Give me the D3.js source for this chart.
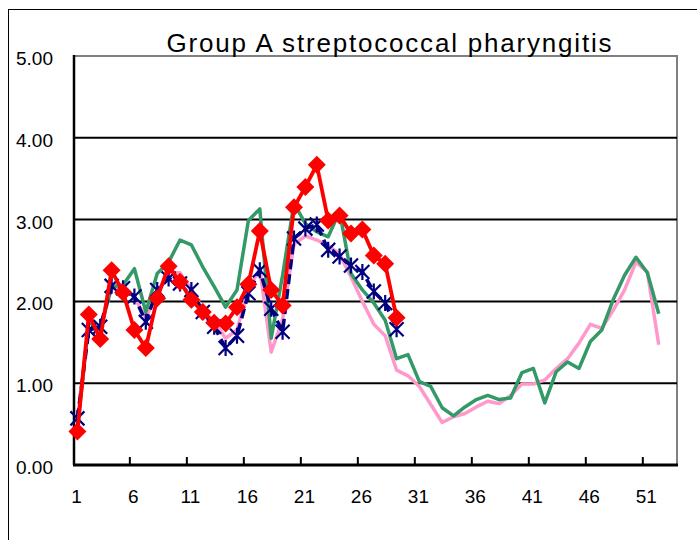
<!DOCTYPE html>
<meta charset="utf-8">
<head>
    <style>
        body { margin: 0; background: #fff; }
        svg { display: block; }
        .lbl { font-family: "Liberation Sans", Arial, sans-serif; fill: #000; }
    </style>
    <script src="https://d3js.org/d3.v7.min.js"></script>
</head>
<body>
<script>

    // weekly values (per sentinel site)
    var weeks = d3.range(1, 53);
    var xLabels = [1, 6, 11, 16, 21, 26, 31, 36, 41, 46, 51];
    var yTicks = [0, 1, 2, 3, 4, 5];

    var pink = [0.55, 1.75, 1.70, 2.15, 2.20, 2.05, 1.80, 2.10, 2.35, 2.35,
        2.15, 1.90, 1.75, 1.55, 1.65, 2.15, 2.40, 1.38, 1.78, 2.70,
        2.80, 2.75, 2.68, 2.58, 2.30, 2.00, 1.72, 1.58, 1.16, 1.09,
        0.96, 0.74, 0.52, 0.59, 0.63, 0.71, 0.78, 0.75, 0.85, 0.99,
        0.99, 1.04, 1.18, 1.30, 1.49, 1.72, 1.67, 1.89, 2.14, 2.48,
        2.36, 1.47];

    var green = [0.45, 1.75, 1.65, 2.18, 2.20, 2.40, 1.87, 2.34, 2.48, 2.75,
        2.69, 2.42, 2.18, 1.93, 2.14, 2.99, 3.13, 1.55, 2.32, 3.20,
        2.95, 2.85, 2.79, 3.10, 2.34, 2.14, 1.98, 1.77, 1.30, 1.35,
        1.02, 0.96, 0.70, 0.60, 0.71, 0.80, 0.85, 0.80, 0.82, 1.13,
        1.18, 0.76, 1.14, 1.26, 1.18, 1.51, 1.65, 2.02, 2.32, 2.54,
        2.35, 1.85];

    var navy = [0.57, 1.65, 1.69, 2.19, 2.16, 2.06, 1.75, 2.14, 2.28, 2.22,
        2.14, 1.87, 1.69, 1.43, 1.58, 2.10, 2.38, 1.91, 1.63, 2.77,
        2.89, 2.94, 2.63, 2.55, 2.44, 2.36, 2.12, 1.98, 1.66];

    var red = [0.41, 1.84, 1.54, 2.38, 2.11, 1.65, 1.43, 2.04, 2.43, 2.24,
        2.02, 1.87, 1.74, 1.73, 1.93, 2.21, 2.86, 2.14, 1.95, 3.15,
        3.40, 3.67, 2.99, 3.05, 2.83, 2.88, 2.56, 2.46, 1.80];

    var width = 697, height = 540;
    var plot = {left: 74, right: 677, top: 56, bottom: 465};

    var svg = d3.select("body").append("svg")
        .attr("width", width)
        .attr("height", height);

    // outer chart frame
    svg.append("rect")
        .attr("x", 8.5).attr("y", 9.5)
        .attr("width", 720).attr("height", 560)
        .attr("fill", "none")
        .attr("stroke", "#000")
        .attr("stroke-width", 1);

    var x = d3.scaleLinear().domain([0.7, 53.6]).range([plot.left, plot.right]);
    var y = d3.scaleLinear().domain([0, 5]).range([plot.bottom, plot.top]);

    // plot area border (grey) top + right
    svg.append("path")
        .attr("d", "M" + plot.left + "," + y(5) + "H" + plot.right + "V" + plot.bottom)
        .attr("fill", "none")
        .attr("stroke", "#808080")
        .attr("stroke-width", 2);

    // gridlines
    svg.append("g").selectAll("line")
        .data(yTicks.filter(function (d) { return d > 0 && d < 5; }))
        .enter().append("line")
        .attr("x1", plot.left).attr("x2", plot.right)
        .attr("y1", function (d) { return y(d); })
        .attr("y2", function (d) { return y(d); })
        .attr("stroke", "#000")
        .attr("stroke-width", 2);

    // y labels
    svg.append("g").selectAll("text")
        .data(yTicks)
        .enter().append("text")
        .attr("class", "lbl")
        .attr("x", 53)
        .attr("y", function (d) { return y(d) + 9; })
        .attr("text-anchor", "end")
        .style("font-size", "19px")
        .text(function (d) { return d3.format(".2f")(d); });

    // axes lines
    svg.append("line")
        .attr("x1", plot.left).attr("x2", plot.left)
        .attr("y1", y(5) - 1).attr("y2", plot.bottom)
        .attr("stroke", "#000").attr("stroke-width", 2.5);
    svg.append("line")
        .attr("x1", plot.left - 1).attr("x2", plot.right + 1)
        .attr("y1", plot.bottom).attr("y2", plot.bottom)
        .attr("stroke", "#000").attr("stroke-width", 3);

    // ticks at category-group boundaries
    svg.append("g").selectAll("line")
        .data(xLabels.slice(1))
        .enter().append("line")
        .attr("x1", function (d) { return x(d - 0.4); })
        .attr("x2", function (d) { return x(d - 0.4); })
        .attr("y1", plot.bottom).attr("y2", plot.bottom - 8)
        .attr("stroke", "#000").attr("stroke-width", 2);

    svg.append("g").selectAll("text")
        .data(xLabels)
        .enter().append("text")
        .attr("class", "lbl")
        .attr("x", function (d) { return x(d) - 1; })
        .attr("y", 503)
        .attr("text-anchor", "middle")
        .style("font-size", "19px")
        .text(function (d) { return d; });

    // title
    svg.append("text")
        .attr("class", "lbl")
        .attr("x", 389)
        .attr("y", 52)
        .attr("text-anchor", "middle")
        .attr("textLength", 445)
        .attr("lengthAdjust", "spacing")
        .style("font-size", "26px")
        .text("Group A streptococcal pharyngitis");

    var line = d3.line()
        .x(function (d, i) { return x(weeks[i]); })
        .y(function (d) { return y(d); });

    function drawLine(vals, color, w, dash) {
        svg.append("path")
            .datum(vals)
            .attr("d", line)
            .attr("fill", "none")
            .attr("stroke", color)
            .attr("stroke-width", w)
            .attr("stroke-linejoin", "round")
            .attr("stroke-dasharray", dash || null);
    }

    drawLine(pink, "#FF99CC", 3.5);
    drawLine(green, "#339966", 3.5);
    drawLine(navy, "#000080", 3.5, "10,5");

    // asterisk markers
    svg.append("g").selectAll("path")
        .data(navy)
        .enter().append("path")
        .attr("transform", function (d, i) {
            return "translate(" + x(weeks[i]) + "," + y(d) + ")";
        })
        .attr("d", "M-7,-7L7,7M-7,7L7,-7M0,-8L0,8")
        .attr("stroke", "#000080")
        .attr("stroke-width", 2.2)
        .attr("fill", "none");

    drawLine(red, "#FF0000", 3.8);

    // diamond markers
    svg.append("g").selectAll("path")
        .data(red)
        .enter().append("path")
        .attr("transform", function (d, i) {
            return "translate(" + x(weeks[i]) + "," + y(d) + ")";
        })
        .attr("d", "M0,-9L9,0L0,9L-9,0Z")
        .attr("fill", "#FF0000");

</script>
</body>
